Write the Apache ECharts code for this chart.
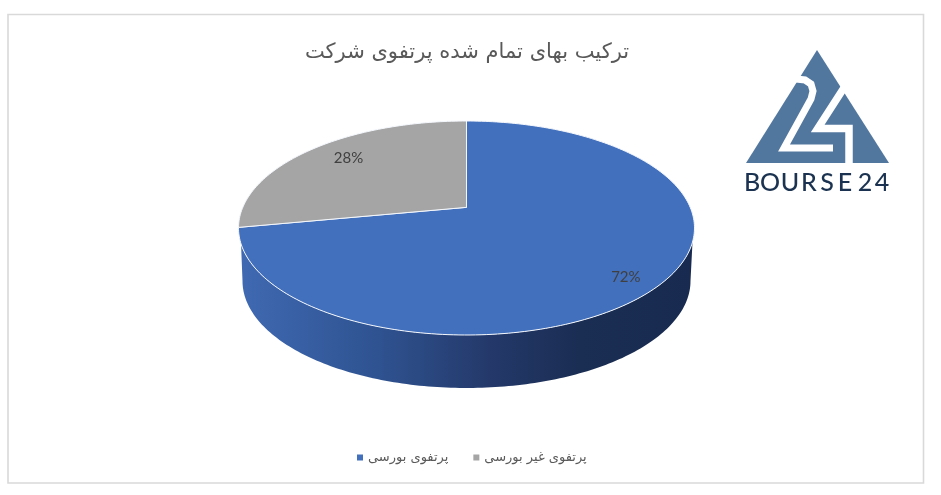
<!DOCTYPE html>
<html><head><meta charset="utf-8">
<style>html,body{margin:0;padding:0;background:#fff}#c{width:941px;height:495px}</style>
<script src="https://cdn.jsdelivr.net/npm/echarts@6/dist/echarts.min.js"></script>
</head><body><div id="c"></div>
<script>
const titleText = 'ترکیب بهای تمام شده پرتفوی شرکت';
const categories = ['پرتفوی بورسی', 'پرتفوی غیر بورسی'];
const values = [72, 28];
const colors = ['#4270bd', '#a5a5a5'];
const labelRadius = [0.87, 0.78];
const labelAngleShift = [0.07, 0.04];
const logoLetters = ['B','O','U','R','S','E','2','4'];
const logoLetterX = [752,770,790,809,827,845,865,882];

const CX=466.5, CY=228, RX=228, RY=107, K=0.193, DEPTH=53, RXB=224;
const total = values.reduce((a,b)=>a+b,0);
function project(a, r){
  const x=r*Math.sin(a), y=r*Math.cos(a), d=1+K*y;
  return [CX+RX*x*Math.sqrt(1-K*K)/d, CY-RY*(y+K)/d];
}
function arcPts(a0,a1){
  const pts=[project(a0,1)], n=Math.ceil(Math.abs(a1-a0)/0.02);
  for(let i=1;i<=n;i++) pts.push(project(a0+(a1-a0)*i/n,1));
  return pts;
}
function sidePts(){
  const pts=[], f0=0.132;
  for(let f=f0;f<=Math.PI-f0;f+=0.02) pts.push([CX+RX*Math.cos(f),CY+RY*Math.sin(f)]);
  for(let f=Math.PI;f>=0;f-=0.02) pts.push([CX+RXB*Math.cos(f),CY+DEPTH+RY*Math.sin(f)]);
  return pts;
}
const sideGrad = new echarts.graphic.LinearGradient(0,0,1,0,[
  {offset:0,color:'#3f69b2'},{offset:0.3,color:'#2f5391'},{offset:0.55,color:'#24396a'},
  {offset:0.75,color:'#1a2d53'},{offset:1,color:'#182a4f'}]);

function makeSeries(idx){
  return {
    type:'custom', name:categories[idx], coordinateSystem:'none',
    itemStyle:{color:colors[idx]}, silent:true, z:idx===0?2:3,
    data:[values[idx]],
    renderItem(params, api){
      const v=api.value(0);
      let before=0; for(let i=0;i<idx;i++) before+=values[i];
      const a0=before/total*2*Math.PI, a1=(before+v)/total*2*Math.PI;
      const apex=project(0,0);
      const children=[];
      if(idx===0) children.push({type:'polygon',shape:{points:sidePts()},style:{fill:sideGrad}});
      children.push({type:'polygon',shape:{points:[apex].concat(arcPts(a0,a1))},
        style:{fill:colors[idx],stroke:'#f4f7fc',lineWidth:1,lineJoin:'round'}});
      const p=project((a0+a1)/2+labelAngleShift[idx],labelRadius[idx]);
      children.push({type:'text',x:p[0],y:p[1],style:{text:v+'%',fill:'#404040',
        font:'15px Lato, sans-serif',align:'center',verticalAlign:'middle'}});
      return {type:'group',children};
    }
  };
}

const logoBlue='#52779f', white='#ffffff';
const logo=[
  {type:'polygon',shape:{points:[[817,50],[889,163],[746,163]]},style:{fill:logoBlue}},
  {type:'polyline',shape:{points:[[796,79],[805,80],[811,84],[813,91],[811,99],[784,148],[833,148]]},
    style:{stroke:white,lineWidth:7,fill:null,lineJoin:'miter'}},
  {type:'polyline',shape:{points:[[849,80],[817.7,128.5],[849,128.5],[849,166]]},
    style:{stroke:white,lineWidth:7.5,fill:null,lineJoin:'miter'}},
].concat(logoLetters.map((ch,i)=>({type:'text',x:logoLetterX[i],y:183,
  style:{text:ch,fill:'#1b3350',font:'500 25px Lato, sans-serif',align:'center',verticalAlign:'middle'}})));

const chart=echarts.init(document.getElementById('c'),null,{renderer:'canvas'});
chart.setOption({
  animation:false, backgroundColor:'#fff',
  title:{text:titleText,left:462,top:37,textAlign:'center',
    textStyle:{color:'#595959',fontSize:21,fontWeight:'normal',fontFamily:'DejaVu Sans'}},
  legend:{data:categories,left:352,top:446,icon:'rect',itemWidth:6,itemHeight:6,itemGap:25,selectedMode:false,
    textStyle:{color:'#595959',fontSize:13,fontFamily:'DejaVu Sans'}},
  graphic:{elements:[{type:'rect',shape:{x:8,y:14.5,width:915.5,height:468.5},z:-1,
      style:{fill:'#fff',stroke:'#d9d9d9',lineWidth:1.6}}].concat(logo)},
  series:[makeSeries(0),makeSeries(1)]
});
</script></body></html>
